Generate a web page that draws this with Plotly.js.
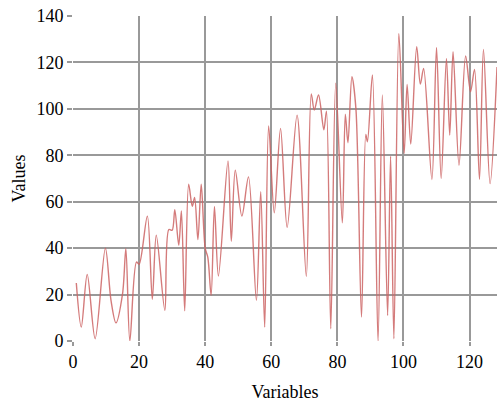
<!DOCTYPE html>
<html>
<head>
<meta charset="utf-8">
<script src="https://cdn.plot.ly/plotly-3.0.1.min.js"></script>
<style>html,body{margin:0;padding:0;background:#fff;}#chart{width:498px;height:403px;}</style>
</head>
<body>
<div id="chart"></div>
<script>
const xValues = [1,2.5,4.3,6.7,9.8,11.5,13,15,16,17.2,19.2,20,22.5,24,25.2,27.8,29,30,30.8,32,32.8,33.8,35,36.1,36.8,37.8,38.8,40,40.8,41.8,42.8,44,46.9,47.9,49.1,51.1,53.1,55.5,56.8,58,59.2,60.9,62.8,64.8,67.8,70.6,72.1,73,74.3,75.9,76.7,78,79.5,81.5,82.4,83.2,84.4,85.6,87.3,88.6,89.1,90.6,92.3,93.6,95.2,96.1,97.1,98.6,100.2,101.1,102.2,104,105.1,106.1,108.6,110,111.4,113,114,115,116.8,118.8,120.3,121.5,123,124.2,126.2,128.3];
const yValues = [25,6,28.7,1,40,17.5,7.8,20.4,39.8,0,34,33,53.8,18,45.6,13.2,48,47.7,56.6,41.3,56,13,67.5,58,61.8,43.7,67.5,40,36,19.7,58,28,77.6,43,73.6,53.8,70.7,17.5,64.3,6,92.6,55.2,91.6,48.9,97.3,27.9,106.4,99.5,106,91,99,5.3,111,50.9,97.7,85.4,113.8,100.2,10.3,89,85.8,114.6,0,106,11,79.6,1,132.5,80.8,110.5,84.8,126.8,110.7,117.4,69.6,126.5,70,121.7,88.7,124.6,75.7,122.8,107.4,117,69.6,125.6,67.8,118];
const xTicks = [0,20,40,60,80,100,120];
const yTicks = [0,20,40,60,80,100,120,140];

const fam = 'Liberation Serif';
const tickFont = {family: fam, size: 18, color: '#000'};
const titleFont = {family: fam, size: 18, color: '#000'};
Plotly.newPlot('chart', [{
  x: xValues, y: yValues, type: 'scatter', mode: 'lines',
  line: {color: 'rgba(205,100,100,0.85)', width: 1.4, shape: 'spline', smoothing: 0.9},
  hoverinfo: 'none'
}], {
  width: 498, height: 403,
  margin: {l: 73, r: 1, t: 16, b: 62},
  paper_bgcolor: '#fff', plot_bgcolor: '#fff',
  showlegend: false,
  font: tickFont,
  xaxis: {
    range: [0, 128.3], tickmode: 'array', tickvals: xTicks,
    showgrid: true, gridcolor: '#999999', gridwidth: 2,
    zeroline: false, showline: false,
    ticks: 'outside', ticklen: 4, tickcolor: '#999999', tickwidth: 2,
    tickfont: tickFont,
    title: {text: 'Variables', font: titleFont, standoff: 14}
  },
  yaxis: {
    range: [0, 140], tickmode: 'array', tickvals: yTicks,
    showgrid: true, gridcolor: '#999999', gridwidth: 2,
    zeroline: false, showline: false,
    ticks: 'outside', ticklen: 5, tickcolor: '#999999', tickwidth: 2,
    tickfont: tickFont,
    title: {text: 'Values', font: titleFont, standoff: 6}
  }
}, {staticPlot: true});
</script>
</body>
</html>
